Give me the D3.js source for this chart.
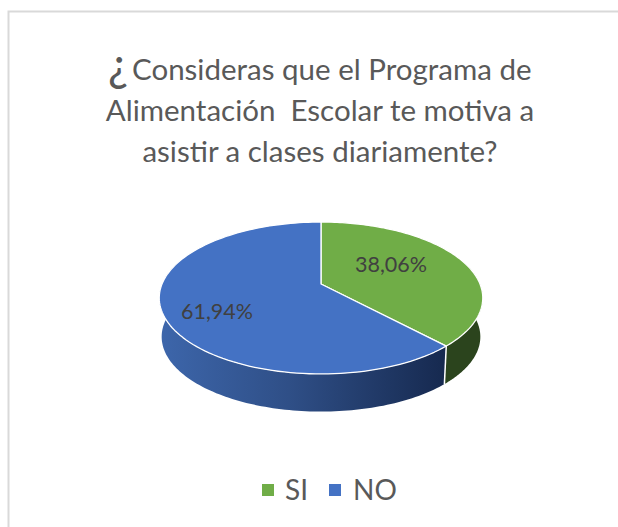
<!DOCTYPE html>
<html><head><meta charset="utf-8">
<style>html,body{margin:0;padding:0;background:#fff}svg{display:block}text{font-family:Lato,"Open Sans",sans-serif;white-space:pre}</style>
<script src="https://cdn.jsdelivr.net/npm/d3@7"></script></head>
<body><script>
const categories = ["SI", "NO"];
const values = [38.06, 61.94];
const labels = ["38,06%", "61,94%"];
const colors = ["#70AD47", "#4472C4"];
const titleLines = ["Consideras que el Programa de", "Alimentación  Escolar te motiva a", "asistir a clases diariamente?"];

const W = 618, H = 527;
const svg = d3.select("body").append("svg").attr("width", W).attr("height", H);

const defs = svg.append("defs");
const wallStopsNo = [["#3d66ab", 0], ["#2f4f87", .45], ["#16294f", 1]];
const wallStopsSi = [["#2b441d", 0], ["#2b441d", 1]];
const gradIds = ["wall-si", "wall-no"];
[wallStopsSi, wallStopsNo].forEach((stops, i) => {
  const g = defs.append("linearGradient").attr("id", gradIds[i]).attr("x1", 0).attr("x2", 1).attr("y1", 0).attr("y2", 0);
  stops.forEach(s => g.append("stop").attr("offset", s[1]).attr("stop-color", s[0]));
});

// chart frame
svg.append("path").attr("d", `M8.5,${H}V11.5H${W}`).attr("fill", "none").attr("stroke", "#d9d9d9").attr("stroke-width", 2);

// perspective projection of the pie's disc
const cx = 321, cy = 284, k = 0.184, A = 73.4, B = 159;
const wallScale = 0.985, wallCy = 323;
const topRim = a => {
  const u = Math.sin(a), v = Math.cos(a), w = 1 + k * v;
  return [cx + B * u / w, cy - A * v / w];
};
const bottomRim = a => {
  const u = Math.sin(a), v = Math.cos(a), w = 1 + k * v;
  return [cx + wallScale * B * u / w, wallCy - wallScale * A * v / w];
};
const line = d3.line();
const range = (a0, a1) => d3.range(0, 121).map(i => a0 + (a1 - a0) * i / 120);

const arcs = d3.pie().sort(null)(values);

// side walls
const frontMin = Math.PI / 2 - 0.3, frontMax = 3 * Math.PI / 2 + 0.3;
arcs.forEach((d, i) => {
  const a0 = Math.max(d.startAngle, frontMin), a1 = Math.min(d.endAngle, frontMax);
  const angles = range(a0, a1);
  const pts = angles.map(topRim).concat(angles.slice().reverse().map(bottomRim));
  svg.append("path").attr("d", line(pts) + "Z").attr("fill", `url(#${gradIds[i]})`);
});
// wall seam
arcs.slice(0, 1).forEach(d => {
  svg.append("path").attr("d", line([topRim(d.endAngle), bottomRim(d.endAngle)])).attr("stroke", "#fff").attr("stroke-width", 1.5).attr("fill", "none");
});

// top faces
arcs.forEach((d, i) => {
  const pts = [[cx, cy]].concat(range(d.startAngle, d.endAngle).map(topRim));
  svg.append("path").attr("d", line(pts) + "Z").attr("fill", colors[i]).attr("stroke", "#fff").attr("stroke-width", 1.3).attr("stroke-linejoin", "round");
});

// data labels
const labelAnchors = [[391, 264], [217, 311]];
labels.forEach((t, i) => {
  svg.append("text").attr("x", labelAnchors[i][0]).attr("y", labelAnchors[i][1] + 8).attr("text-anchor", "middle")
    .attr("font-size", 21.5).attr("fill", "#404040").text(t);
});

// title
const titleY = [80, 121, 162];
titleLines.forEach((t, i) => {
  const x = i === 0 ? 132 : 320;
  svg.append("text").attr("x", x).attr("y", titleY[i]).attr("text-anchor", i === 0 ? "start" : "middle")
    .attr("font-size", 29.5).attr("fill", "#595959").text(t);
});
svg.append("text").attr("x", 108).attr("y", 81).attr("font-size", 46).attr("fill", "#595959").text("¿");

// legend
const legendX = [262, 329], legendTextX = [285, 353];
categories.forEach((c, i) => {
  svg.append("rect").attr("x", legendX[i]).attr("y", 484).attr("width", 12).attr("height", 12).attr("fill", colors[i]);
  svg.append("text").attr("x", legendTextX[i]).attr("y", 500).attr("font-size", 28).attr("fill", "#595959").text(c);
});
</script></body></html>
